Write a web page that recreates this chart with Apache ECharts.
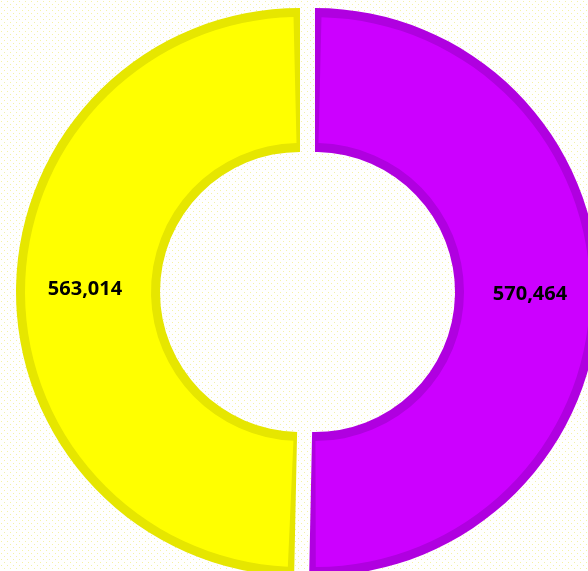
<!DOCTYPE html>
<html>
<head>
<meta charset="utf-8">
<script src="https://cdn.jsdelivr.net/npm/echarts@6/dist/echarts.min.js"></script>
<style>
  html, body { margin: 0; padding: 0; background: #ffffff; }
  #box { width: 588px; height: 571px; }
</style>
</head>
<body>
<div id="box"></div>
<script>
// data
var names = ['Right', 'Left'];
var values = [570464, 563014];
var fillColors = ['#cc00ff', '#ffff00'];
var edgeColors = ['#b000e0', '#e6e600'];

// faint dotted paper behind the chart
function makeBg() {
    var c = document.createElement('canvas');
    c.width = 6; c.height = 6;
    var g = c.getContext('2d');
    g.fillStyle = '#ffffff';
    g.fillRect(0, 0, 6, 6);
    g.fillStyle = '#f5f2a6';
    g.fillRect(1, 1, 1, 1);
    g.fillRect(4, 4, 1, 1);
    return c;
}

function buildData(colors, withSel) {
    var out = [];
    for (var i = 0; i < values.length; i++) {
        out.push({
            name: names[i],
            value: values[i],
            selected: withSel,
            itemStyle: { color: colors[i] }
        });
    }
    return out;
}

var myChart = echarts.init(document.getElementById('box'));
var center = [307.5, 292];

var option = {
    backgroundColor: { image: makeBg(), repeat: 'repeat' },
    animation: false,
    series: [
        {
            // outer shape in the edge colour
            type: 'pie',
            silent: true,
            center: center,
            radius: [140, 284],
            startAngle: 90,
            clockwise: true,
            selectedMode: 'multiple',
            selectedOffset: 7.5,
            label: { show: false },
            labelLine: { show: false },
            itemStyle: { borderWidth: 0 },
            select: { itemStyle: { borderWidth: 0 } },
            emphasis: { disabled: true },
            data: buildData(edgeColors, true)
        },
        {
            // inner fill, inset to leave the border visible
            type: 'pie',
            silent: true,
            center: center,
            radius: [149, 275],
            startAngle: 90,
            clockwise: true,
            padAngle: 2.7,
            selectedMode: 'multiple',
            selectedOffset: 7.5,
            labelLine: { show: false },
            itemStyle: { borderWidth: 0 },
            select: { itemStyle: { borderWidth: 0 } },
            emphasis: { disabled: true },
            label: {
                show: true,
                position: 'inside',
                color: '#000000',
                fontFamily: 'Open Sans',
                fontWeight: 'bold',
                fontSize: 20,
                formatter: function (p) {
                    return p.value.toLocaleString('en-US');
                }
            },
            data: buildData(fillColors, true)
        }
    ]
};
myChart.setOption(option);
</script>
</body>
</html>
